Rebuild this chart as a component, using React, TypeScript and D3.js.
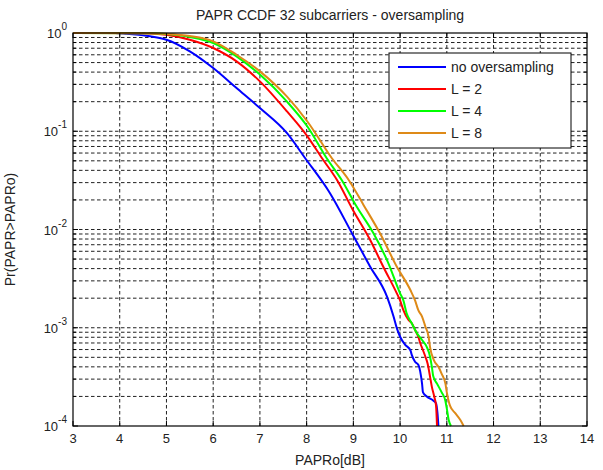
import React from 'react'
import * as d3 from 'd3'

// CCDF of PAPR, 32 subcarriers
const noOsDb = [3, 3.9, 4.15, 4.65, 5.0, 5.5, 6.0, 6.5, 7.0, 7.58, 7.97, 8.5, 8.99, 9.36, 9.72, 9.86, 9.93, 10.0, 10.11, 10.22, 10.25, 10.32, 10.39, 10.43, 10.47, 10.49, 10.57, 10.72, 10.77, 10.8, 10.82]
const noOsP = [1, 0.999, 0.98, 0.925, 0.855, 0.651, 0.44, 0.275, 0.172, 0.0955, 0.0531, 0.0234, 0.00879, 0.00418, 0.00207, 0.0013, 0.00099, 0.00081, 0.00067, 0.00059, 0.00053, 0.00045, 0.00042, 0.00036, 0.00027, 0.00022, 0.0002, 0.00018, 0.00017, 0.000135, 0.0001]
const l2Db = [3, 4.5, 5.0, 5.5, 6.0, 6.5, 7.0, 7.58, 8.02, 8.33, 8.65, 8.99, 9.36, 9.64, 9.93, 10.0, 10.07, 10.18, 10.25, 10.32, 10.39, 10.43, 10.49, 10.54, 10.59, 10.64, 10.68, 10.73, 10.77, 10.79]
const l2P = [1, 0.995, 0.96, 0.855, 0.704, 0.515, 0.322, 0.159, 0.0883, 0.0531, 0.0319, 0.0158, 0.00782, 0.00418, 0.00224, 0.0019, 0.00151, 0.0012, 0.00111, 0.00095, 0.00081, 0.0007, 0.00059, 0.00051, 0.00043, 0.00032, 0.00025, 0.0002, 0.00016, 0.0001]
const l4Db = [3, 4.7, 5.0, 5.5, 6.0, 6.5, 7.0, 7.58, 8.02, 8.43, 8.75, 9.07, 9.43, 9.75, 10.0, 10.07, 10.14, 10.25, 10.36, 10.47, 10.57, 10.64, 10.68, 10.71, 10.79, 10.89, 10.97, 11.0, 11.04, 11.09]
const l4P = [1, 0.995, 0.977, 0.91, 0.791, 0.579, 0.377, 0.2, 0.111, 0.0531, 0.0319, 0.0171, 0.00914, 0.00453, 0.00224, 0.0019, 0.0014, 0.00111, 0.00088, 0.00075, 0.00064, 0.00051, 0.0004, 0.00032, 0.00027, 0.00022, 0.00018, 0.00015, 0.000115, 0.0001]
const l8Db = [3, 4.7, 5.0, 5.5, 6.0, 6.5, 7.0, 7.58, 8.02, 8.54, 8.9, 9.22, 9.57, 9.93, 10.22, 10.32, 10.39, 10.47, 10.54, 10.61, 10.64, 10.72, 10.82, 10.89, 10.97, 11.0, 11.07, 11.18, 11.29, 11.36]
const l8P = [1, 0.997, 0.98, 0.93, 0.823, 0.601, 0.407, 0.225, 0.125, 0.0531, 0.0319, 0.0177, 0.00914, 0.00418, 0.00242, 0.0019, 0.00151, 0.0013, 0.00103, 0.00081, 0.00064, 0.00047, 0.0004, 0.00034, 0.00027, 0.00022, 0.00016, 0.000135, 0.000115, 0.0001]

const seriesNames = ['no oversampling', 'L = 2', 'L = 4', 'L = 8']
const seriesColors = ['#0000ff', '#ff0000', '#00ff00', '#de8a18']
const xTicks = [3, 4, 5, 6, 7, 8, 9, 10, 11, 12, 13, 14]
const yExps = [0, -1, -2, -3, -4]

const W = 603, H = 470
const FONT = 'Liberation Sans, Arial, sans-serif'

export default function App() {
  const m = { left: 73, top: 33, right: 587, bottom: 426 }
  const x = d3.scaleLinear().domain([3, 14]).range([m.left, m.right])
  const y = d3.scaleLog().domain([1e-4, 1]).range([m.bottom, m.top])
  const series = [[noOsDb, noOsP], [l2Db, l2P], [l4Db, l4P], [l8Db, l8P]]
  const line = d3.line<[number, number]>().x(d => x(d[0])).y(d => y(d[1])).curve(d3.curveMonotoneX)
  const minor: number[] = []
  for (let e = -4; e < 0; e++) for (let k = 1; k < 10; k++) minor.push(k * Math.pow(10, e))
  const gridY = minor.filter(v => v > 1e-4)
  const dash = '3.5,2.5'
  return (
    <svg width={W} height={H} style={{ display: 'block', position: 'absolute', left: 0, top: 0, background: '#fff' }} fontFamily={FONT}>
      <rect x={0} y={0} width={W} height={H} fill="#fff" />
      {/* grid */}
      {xTicks.slice(1, -1).map(t => (
        <line key={'gx' + t} x1={x(t)} x2={x(t)} y1={m.top} y2={m.bottom} stroke="#222" strokeDasharray={dash} />
      ))}
      {gridY.map((v, i) => (
        <line key={'gy' + i} x1={m.left} x2={m.right} y1={y(v)} y2={y(v)} stroke="#222" strokeDasharray={dash} />
      ))}
      {/* curves */}
      {series.map((s, i) => (
        <path key={'s' + i} d={line(s[0].map((d, j) => [d, s[1][j]] as [number, number])) || ''} fill="none" stroke={seriesColors[i]} strokeWidth={2} />
      ))}
      {/* axes box and ticks */}
      <rect x={m.left} y={m.top} width={m.right - m.left} height={m.bottom - m.top} fill="none" stroke="#000" strokeWidth={1.2} />
      {xTicks.map(t => (
        <g key={'tx' + t}>
          <line x1={x(t)} x2={x(t)} y1={m.bottom} y2={m.bottom - 5} stroke="#000" />
          <line x1={x(t)} x2={x(t)} y1={m.top} y2={m.top + 5} stroke="#000" />
          <text x={x(t)} y={443} textAnchor="middle" fontSize={13} fill="#222">{t}</text>
        </g>
      ))}
      {minor.map((v, i) => {
        const major = Math.abs(Math.log10(v) - Math.round(Math.log10(v))) < 1e-9
        const len = major ? 5 : 3
        return (
          <g key={'ty' + i}>
            <line x1={m.left} x2={m.left + len} y1={y(v)} y2={y(v)} stroke="#000" />
            <line x1={m.right} x2={m.right - len} y1={y(v)} y2={y(v)} stroke="#000" />
          </g>
        )
      })}
      {yExps.map(e => (
        <text key={'ly' + e} x={67} y={y(Math.pow(10, e)) + 5} textAnchor="end" fontSize={13} fill="#222">
          10<tspan dy={-8} fontSize={10}>{e}</tspan>
        </text>
      ))}
      {/* labels */}
      <text x={(m.left + m.right) / 2} y={20} textAnchor="middle" fontSize={14} fill="#222">PAPR CCDF 32 subcarriers - oversampling</text>
      <text x={(m.left + m.right) / 2} y={465} textAnchor="middle" fontSize={14} fill="#222">PAPRo[dB]</text>
      <text transform={`translate(15,${(m.top + m.bottom) / 2}) rotate(-90)`} textAnchor="middle" fontSize={14} fill="#222">Pr(PAPR&gt;PAPRo)</text>
      {/* legend */}
      <rect x={389} y={53} width={182} height={95} fill="#fff" stroke="#000" strokeWidth={1} />
      {seriesNames.map((n, i) => {
        const ly = 67 + i * 22
        return (
          <g key={'lg' + i}>
            <line x1={398} x2={446} y1={ly} y2={ly} stroke={seriesColors[i]} strokeWidth={2} />
            <text x={451} y={ly + 5} fontSize={14} fill="#222">{n}</text>
          </g>
        )
      })}
    </svg>
  )
}
